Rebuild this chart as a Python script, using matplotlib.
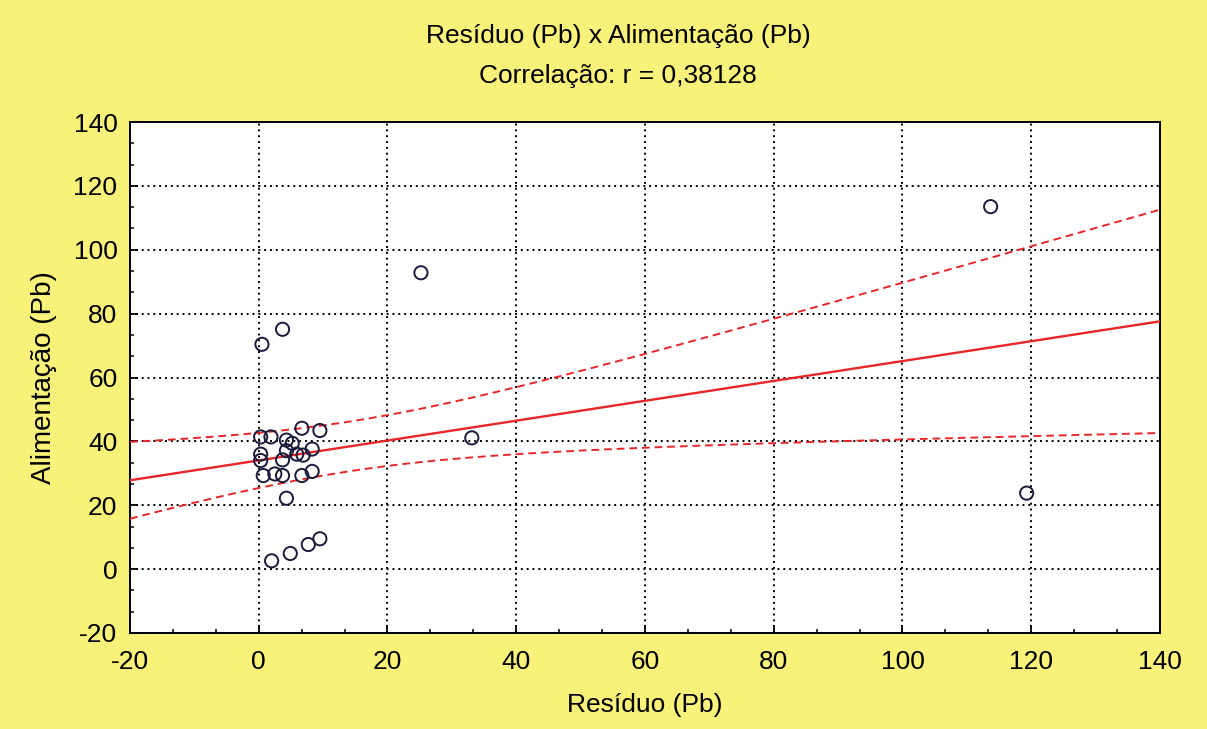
import numpy as np
import matplotlib
matplotlib.use("Agg")
import matplotlib.pyplot as plt
from matplotlib.ticker import MultipleLocator, AutoMinorLocator

# Resíduo (Pb) x Alimentação (Pb)
residuo = [3.7, 0.5, 6.7, 9.5, 0.3, 1.9, 4.3, 5.2, 8.3, 4.3, 0.3, 5.9, 6.9,
           0.3, 3.7, 0.7, 2.5, 3.7, 6.7, 8.3, 4.3, 9.5, 7.7, 4.9, 2.0,
           25.2, 33.1, 113.7, 119.3]
alimentacao = [75.1, 70.4, 44.1, 43.4, 41.4, 41.4, 40.4, 39.4, 37.6, 37.1, 36.0, 36.0, 35.7,
               34.0, 34.2, 29.3, 29.8, 29.3, 29.3, 30.6, 22.2, 9.5, 7.7, 4.9, 2.6,
               92.8, 41.1, 113.5, 23.8]

x = np.array(residuo)
y = np.array(alimentacao)
n = len(x)

# linear fit + confidence band
slope, intercept = np.polyfit(x, y, 1)
xs = np.linspace(-20, 140, 200)
yfit = intercept + slope * xs
resid = y - (intercept + slope * x)
s = np.sqrt(np.sum(resid ** 2) / (n - 2))
t = 1.85
band = t * s * np.sqrt(1 / n + (xs - x.mean()) ** 2 / np.sum((x - x.mean()) ** 2))

plt.rcParams["font.family"] = ["Liberation Sans", "DejaVu Sans"]
plt.rcParams["axes.unicode_minus"] = False

bg = "#F8F27A"
red = "#E8262A"
fig = plt.figure(figsize=(12.07, 7.29), dpi=100, facecolor=bg)
ax = fig.add_axes([0.1077, 0.1317, 0.8533, 0.7009])
ax.set_facecolor("white")

ax.plot(xs, yfit, color=red, lw=1.7, zorder=3)
ax.plot(xs, yfit + band, color=red, lw=1.4, ls=(0, (4, 2.5)), zorder=3)
ax.plot(xs, yfit - band, color=red, lw=1.4, ls=(0, (4, 2.5)), zorder=3)
ax.scatter(x, y, s=90, facecolors="none", edgecolors="#1A1A3A", linewidths=1.4, zorder=4)

ax.set_xlim(-20, 140)
ax.set_ylim(-20, 140)
ax.xaxis.set_major_locator(MultipleLocator(20))
ax.yaxis.set_major_locator(MultipleLocator(20))
ax.xaxis.set_minor_locator(AutoMinorLocator(3))
ax.yaxis.set_minor_locator(AutoMinorLocator(3))
ax.grid(True, which="major", color="black", ls=(0, (1, 2)), lw=1.4)
ax.tick_params(which="both", direction="in", top=False, right=False)
ax.tick_params(which="major", length=6, width=1.3, labelsize=19)
ax.tick_params(axis="x", which="major", pad=12)
ax.tick_params(axis="y", which="major", pad=9)
ax.tick_params(which="minor", length=3, width=1.1)
for sp in ax.spines.values():
    sp.set_linewidth(1.4)
    sp.set_color("black")

ax.set_xlabel("Resíduo (Pb)", fontsize=19, labelpad=14)
ax.set_ylabel("Alimentação (Pb)", fontsize=20, labelpad=12)
fig.text(0.512, 0.951, "Resíduo (Pb) x Alimentação (Pb)", ha="center", va="center", fontsize=19)
fig.text(0.512, 0.896, "Correlação: r = 0,38128", ha="center", va="center", fontsize=19)

fig.savefig("out.png", dpi=100, facecolor=bg)
